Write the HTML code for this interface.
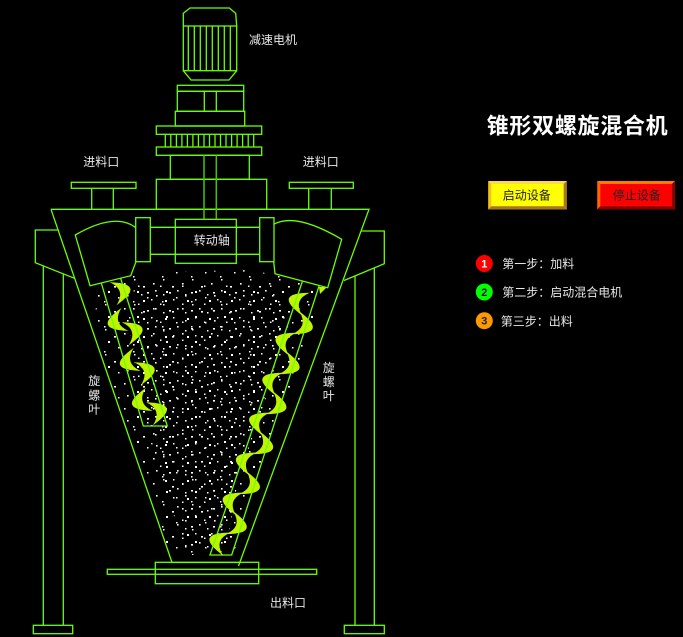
<!DOCTYPE html>
<html><head><meta charset="utf-8">
<style>
html,body{margin:0;padding:0;background:#000;width:683px;height:637px;overflow:hidden}
svg{display:block}
text{font-family:"Liberation Sans","Noto Sans CJK SC",sans-serif}
</style></head>
<body>
<svg width="683" height="637" viewBox="0 0 683 637" xmlns="http://www.w3.org/2000/svg">
<defs>
  <pattern id="pa" width="22" height="18" patternUnits="userSpaceOnUse">
    <rect x="1" y="2" width="1.6" height="1.6" fill="#fff"/>
    <rect x="15" y="4" width="2" height="1.6" fill="#fff"/>
    <rect x="19" y="11" width="1.5" height="1.5" fill="#fff"/>
    <rect x="11" y="12" width="2" height="2" fill="#fff"/>
    <rect x="6" y="15.5" width="1.5" height="1.5" fill="#fff"/>
    <rect x="9" y="6" width="1.5" height="1.5" fill="#fff"/>
  </pattern>
  <pattern id="pb" width="29" height="25" patternUnits="userSpaceOnUse" patternTransform="translate(5,3)">
    <rect x="3" y="5" width="1.6" height="1.6" fill="#fff"/>
    <rect x="22" y="8" width="2" height="1.6" fill="#fff"/>
    <rect x="26" y="19" width="1.5" height="1.5" fill="#fff"/>
    <rect x="6" y="17" width="1.6" height="1.6" fill="#fff"/>
    <rect x="16" y="13" width="2" height="2" fill="#fff"/>
    <rect x="12" y="23" width="1.5" height="1.5" fill="#fff"/>
    <rect x="13" y="1" width="1.5" height="1.5" fill="#fff"/>
  </pattern>
  <path id="R" d="M-2,0 Q34,12 -2,24 Q12,12 -2,0Z" fill="#bff400"/>
  <path id="L" d="M2,0 Q-34,12 2,24 Q-12,12 2,0Z" fill="#bff400"/>
</defs>

<rect width="683" height="637" fill="#000"/>

<!-- particles -->
<polygon points="97,290 120,278 160,272 250,270 300,280 322,292 312,330 300,370 280,420 262,460 245,505 235,555 168,555 155,505 140,455 122,410 105,360 95,320" fill="url(#pb)"/>
<polygon points="135,284 275,284 290,320 272,380 255,430 238,480 226,548 182,548 170,500 150,440 137,380 128,320" fill="url(#pa)"/>

<!-- screw blades -->
<g transform="translate(112.5,285) rotate(-16.9)">
  <use href="#R" transform="translate(0,-3.5)"/>
  <use href="#L" transform="translate(0,24.5)"/>
  <use href="#R" transform="translate(0,38.3)"/>
  <use href="#L" transform="translate(0,66.3)"/>
  <use href="#R" transform="translate(0,80.1)"/>
  <use href="#L" transform="translate(0,108.1)"/>
  <use href="#R" transform="translate(0,121.9)"/>
</g>
<g transform="translate(310.2,285) rotate(18.3)">
  <use href="#L" transform="translate(0,7.5)"/>
  <use href="#R" transform="translate(0,28.5)"/>
  <use href="#L" transform="translate(0,49.6)"/>
  <use href="#R" transform="translate(0,70.6)"/>
  <use href="#L" transform="translate(0,91.7)"/>
  <use href="#R" transform="translate(0,112.7)"/>
  <use href="#L" transform="translate(0,133.8)"/>
  <use href="#R" transform="translate(0,154.8)"/>
  <use href="#L" transform="translate(0,175.9)"/>
  <use href="#R" transform="translate(0,196.9)"/>
  <use href="#L" transform="translate(0,218)"/>
  <use href="#R" transform="translate(0,239)"/>
  <use href="#L" transform="translate(0,260.1)"/>
</g>
<polygon points="319,287 327,287 320,294" fill="#bff400"/>

<g fill="none" stroke="#6cff00" stroke-width="1.3">
  <!-- motor -->
  <path d="M183.3,26 L183.3,13.3 L190,8 L229.3,8 L235.7,13.3 L236.7,26"/>
  <rect x="183.3" y="26" width="53.4" height="44.7"/>
  <path d="M188.3,26V70.7M194.3,26V70.7M200.3,26V70.7M206.3,26V70.7M212.3,26V70.7M218.3,26V70.7M224.3,26V70.7M230.3,26V70.7"/>
  <path d="M183.3,70.7 L191,80 L229,80 L236.7,70.7"/>
  <rect x="177.3" y="85.3" width="66.4" height="6"/>
  <rect x="177.3" y="91.3" width="66.4" height="20"/>
  <path d="M204.3,91.3V111.3M216.3,91.3V111.3"/>
  <rect x="175.3" y="111.3" width="69.4" height="14.7"/>
  <rect x="156.3" y="126" width="105.4" height="8.3"/>
  <path d="M165.3,134.3V147M170.8,134.3V147M176.4,134.3V147M181.9,134.3V147M187.4,134.3V147M192.9,134.3V147M198.4,134.3V147M204,134.3V147M209.5,134.3V147M215,134.3V147M220.5,134.3V147M226,134.3V147M231.6,134.3V147M237.1,134.3V147M242.6,134.3V147M248.2,134.3V147M253.7,134.3V147"/>
  <rect x="156.3" y="147" width="105.4" height="8.3"/>
  <rect x="170.3" y="155.3" width="79" height="24"/>
  <rect x="156.3" y="179.3" width="110.4" height="30"/>

  <!-- tank -->
  <path d="M51,209.3 L369,209.3 L238.5,566"/>
  <path d="M51,209.3 L172,562.5 L239,562.5"/>

  <!-- inlets -->
  <rect x="71.3" y="182.3" width="64.7" height="6"/>
  <path d="M91.7,188.3V209.3M113.3,188.3V209.3"/>
  <rect x="289.3" y="182.3" width="64" height="6"/>
  <path d="M308.7,188.3V209.3M331.3,188.3V209.3"/>

  <!-- brackets & legs -->
  <polyline points="58,230 35.3,230 35.3,262.7 74.5,278.3"/>
  <path d="M43.3,266V625.3M63.3,274V625.3"/>
  <rect x="33.3" y="625.3" width="39.4" height="8.4"/>
  <polyline points="361,231 384.3,231 384.3,263.7 344,280.5"/>
  <path d="M355,276.1V625.3M374.3,267.9V625.3"/>
  <rect x="344.3" y="625.3" width="40" height="8.4"/>

  <!-- center shaft -->
  <rect x="135.7" y="217.7" width="14.6" height="44"/>
  <rect x="259.7" y="217.7" width="14.3" height="44"/>
  <rect x="175.3" y="219.3" width="61" height="44"/>
  <path d="M150.3,227.3H259.7M150.3,254.3H259.7"/>

  <!-- scoops -->
  <path d="M136,261.7 L130.7,275.7 L90,285.7 L75.3,235 Q114.7,212.2 135.3,227.3"/>
  <path d="M273.7,224.3 Q295.7,212.2 341.7,239.3 L327.7,287.7 L275,273.7 L273.7,261.7"/>

  <!-- screw tubes -->
  <path d="M101.3,283 L143.3,426 L167.3,426 L120.5,278"/>
  <path d="M302.5,281 L210,555 L231.7,555 L319.3,285.2"/>

  <!-- outlet -->
  <rect x="155.3" y="562.3" width="103.4" height="21.4"/>
  <rect x="107.3" y="569.3" width="209.4" height="5"/>
</g>
<path d="M204,155.3V219.3M216.3,155.3V219.3" stroke="#4cc000" stroke-width="1.5" fill="none"/>

<!-- labels -->
<g fill="#e6e6e6" font-size="12">
  <text x="249" y="44">减速电机</text>
  <text x="83.3" y="166">进料口</text>
  <text x="302.7" y="166">进料口</text>
  <text x="193.7" y="244.6">转动轴</text>
  <text x="270" y="607">出料口</text>
  <text x="88.3" y="385">旋</text>
  <text x="88.3" y="399.5">螺</text>
  <text x="88.3" y="413.5">叶</text>
  <text x="322.7" y="372">旋</text>
  <text x="322.7" y="386">螺</text>
  <text x="322.7" y="400">叶</text>
</g>

<!-- title -->
<text x="486.7" y="133.4" font-size="22" font-weight="bold" fill="#fff" textLength="181" lengthAdjust="spacing">锥形双螺旋混合机</text>

<!-- start button -->
<rect x="488.3" y="181" width="78.4" height="28.3" fill="#ffff00"/>
<polygon points="488.3,181 566.7,181 563.7,184 491.3,184" fill="#ffd84a"/>
<polygon points="488.3,181 491.3,184 491.3,206.3 488.3,209.3" fill="#f2c020"/>
<polygon points="488.3,209.3 491.3,206.3 563.7,206.3 566.7,209.3" fill="#a87428"/>
<polygon points="566.7,181 566.7,209.3 563.7,206.3 563.7,184" fill="#a87428"/>
<text x="526.7" y="199.5" font-size="12" fill="#222" text-anchor="middle">启动设备</text>

<!-- stop button -->
<rect x="597.3" y="181" width="77.7" height="28.3" fill="#ff0000"/>
<polygon points="597.3,181 675,181 672,184 600.3,184" fill="#ff7a00"/>
<polygon points="597.3,181 600.3,184 600.3,206.3 597.3,209.3" fill="#ff6a00"/>
<polygon points="597.3,209.3 600.3,206.3 672,206.3 675,209.3" fill="#8a0000"/>
<polygon points="675,181 675,209.3 672,206.3 672,184" fill="#8a0000"/>
<text x="636.7" y="199.5" font-size="12" fill="#222" text-anchor="middle">停止设备</text>

<!-- legend -->
<circle cx="484.3" cy="263.5" r="8.5" fill="#ff0000"/>
<text x="484.3" y="267.5" font-size="11" font-weight="bold" fill="#fff" text-anchor="middle">1</text>
<circle cx="484.3" cy="292" r="8.5" fill="#00ff00"/>
<text x="484.3" y="296" font-size="11" font-weight="bold" fill="#111" text-anchor="middle">2</text>
<circle cx="484.3" cy="320.7" r="8.5" fill="#ff9900"/>
<text x="484.3" y="324.7" font-size="11" font-weight="bold" fill="#222" text-anchor="middle">3</text>
<g fill="#e6e6e6" font-size="12">
  <text x="502.3" y="268">第一步：加料</text>
  <text x="502.3" y="296.6">第二步：启动混合电机</text>
  <text x="500.7" y="325.3">第三步：出料</text>
</g>
</svg>
</body></html>
